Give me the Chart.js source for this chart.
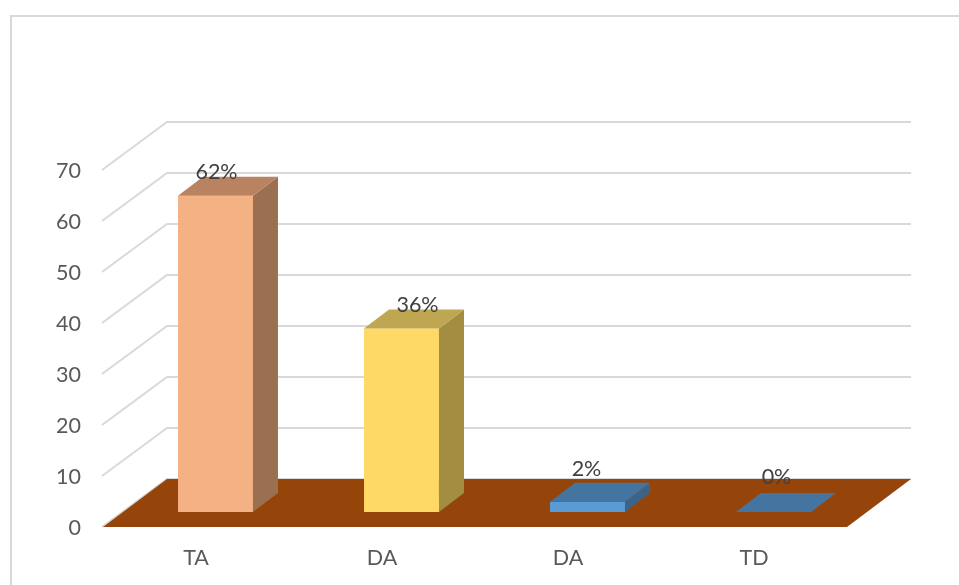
<!DOCTYPE html>
<html>
<head>
<meta charset="utf-8">
<title>TA DA DA TD</title>
<script src="https://cdn.jsdelivr.net/npm/chart.js@4"></script>
<style>
  html, body { margin: 0; background: #fff; }
  canvas { display: block; }
</style>
</head>
<body>
<canvas id="chart" width="959" height="585"></canvas>
<script>
const categories = ['TA', 'DA', 'DA', 'TD'];
const values = [62, 36, 2, 0];
const valueLabels = ['62%', '36%', '2%', '0%'];

const frontColors = ['#f4b183', '#ffd966', '#5b9bd5', '#5b9bd5'];
const topColors = ['#b98260', '#bfa651', '#4474a0', '#4474a0'];
const sideColors = ['#9b7050', '#a38d40', '#3b6488', '#3b6488'];

// labels were placed by hand in the original, so they don't sit centred
const labelNudgeX = [1, 16, -1, 3];
const labelNudgeY = [-23.5, -23.5, -32.5, -35];

const WALL_DX = 64, WALL_DY = -48;   // floor depth
const BAR_DX = 19.5, BAR_DY = -15;   // bars stand part way back on the floor
const DEPTH_DX = 25, DEPTH_DY = -19; // depth of a bar

function poly(ctx, pts, fill) {
  ctx.beginPath();
  pts.forEach((p, i) => i ? ctx.lineTo(p[0], p[1]) : ctx.moveTo(p[0], p[1]));
  ctx.closePath();
  ctx.fillStyle = fill;
  ctx.fill();
}

const box3d = {
  id: 'box3d',
  beforeDraw(chart) {
    const { ctx, canvas } = chart;
    ctx.save();
    ctx.fillStyle = '#fff';
    ctx.fillRect(0, 0, canvas.width, canvas.height);
    // frame of the pasted picture
    ctx.strokeStyle = '#d9d9d9';
    ctx.lineWidth = 2;
    ctx.beginPath();
    ctx.moveTo(11, 585);
    ctx.lineTo(11, 16);
    ctx.lineTo(959, 16);
    ctx.stroke();
    ctx.restore();
  },
  beforeDatasetsDraw(chart) {
    const { ctx, chartArea: area, scales: { y } } = chart;
    ctx.save();
    ctx.strokeStyle = '#d9d9d9';
    ctx.lineWidth = 2;
    y.ticks.forEach(t => {
      const py = y.getPixelForValue(t.value);
      ctx.beginPath();
      ctx.moveTo(area.left - 1, py);
      ctx.lineTo(area.left + WALL_DX, py + WALL_DY);
      ctx.lineTo(area.right + WALL_DX, py + WALL_DY);
      ctx.stroke();
    });
    const b = area.bottom;
    poly(ctx, [
      [area.left, b],
      [area.right, b],
      [area.right + WALL_DX, b + WALL_DY],
      [area.left + WALL_DX, b + WALL_DY]
    ], '#96450a');
    ctx.restore();
    // the library draws the front faces, shifted back onto the floor
    ctx.save();
    ctx.translate(BAR_DX, BAR_DY);
  },
  afterDatasetsDraw(chart) {
    const { ctx } = chart;
    const bars = chart.getDatasetMeta(0).data;
    bars.forEach((bar, i) => {
      const l = bar.x - bar.width / 2, r = bar.x + bar.width / 2;
      if (bar.base > bar.y) {
        poly(ctx, [
          [r, bar.y],
          [r + DEPTH_DX, bar.y + DEPTH_DY],
          [r + DEPTH_DX, bar.base + DEPTH_DY],
          [r, bar.base]
        ], sideColors[i]);
      }
      poly(ctx, [
        [l, bar.y],
        [r, bar.y],
        [r + DEPTH_DX, bar.y + DEPTH_DY],
        [l + DEPTH_DX, bar.y + DEPTH_DY]
      ], topColors[i]);
    });
    ctx.fillStyle = '#404040';
    ctx.font = '21.5px Lato';
    ctx.textAlign = 'center';
    ctx.textBaseline = 'middle';
    bars.forEach((bar, i) => {
      ctx.fillText(valueLabels[i], bar.x + labelNudgeX[i], bar.y + labelNudgeY[i]);
    });
    ctx.restore();
  }
};

new Chart(document.getElementById('chart'), {
  type: 'bar',
  data: {
    labels: categories,
    datasets: [{
      data: values,
      backgroundColor: frontColors,
      barPercentage: 0.403,
      categoryPercentage: 1
    }]
  },
  options: {
    responsive: false,
    animation: false,
    layout: { padding: { top: 170, right: 112, bottom: 0, left: 0 } },
    plugins: { legend: { display: false }, tooltip: { enabled: false } },
    scales: {
      x: {
        grid: { display: false },
        border: { display: false },
        afterFit: s => { s.height = 58; },
        ticks: { color: '#595959', font: { family: 'Lato', size: 21.5 }, padding: 10, maxRotation: 0 }
      },
      y: {
        min: 0,
        max: 70,
        grid: { display: false },
        border: { display: false },
        afterFit: s => { s.width = 103; },
        ticks: { stepSize: 10, color: '#595959', font: { family: 'Lato', size: 21.5 }, padding: 14, labelOffset: 1 }
      }
    }
  },
  plugins: [box3d]
});
</script>
</body>
</html>
